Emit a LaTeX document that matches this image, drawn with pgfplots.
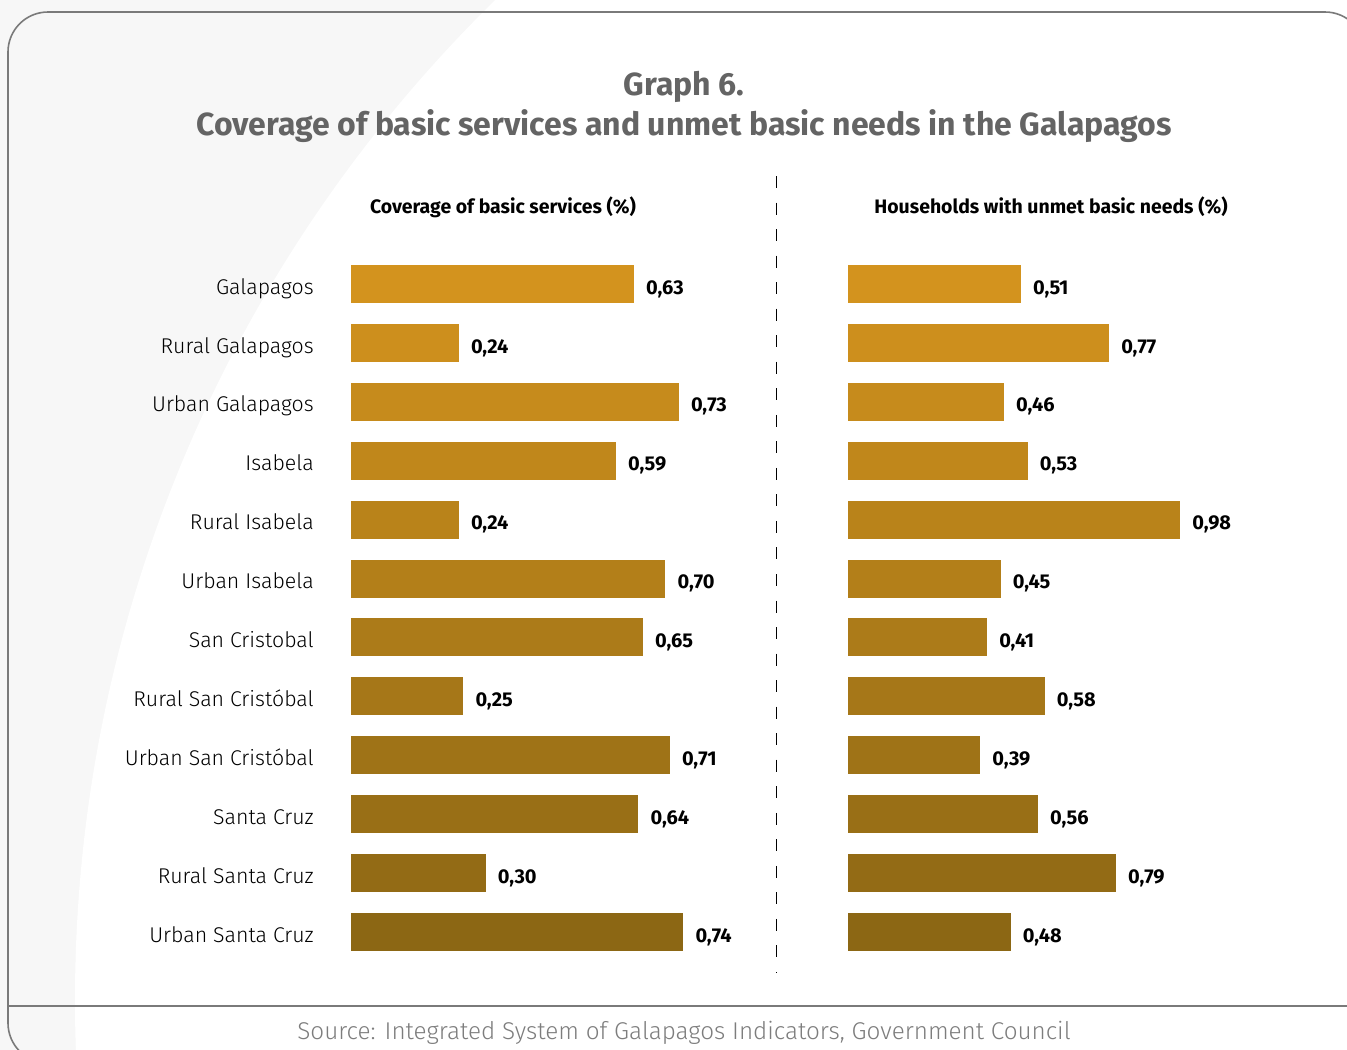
\documentclass[border=0pt]{standalone}
\usepackage{pgfplots}
\pgfplotsset{compat=1.18}
\usepackage{fontspec}
\setmainfont{Fira Sans}
\newfontfamily\lightfont{Fira Sans Light}
\definecolor{c0}{RGB}{211,147,30}
\definecolor{c1}{RGB}{205,143,29}
\definecolor{c2}{RGB}{198,139,28}
\definecolor{c3}{RGB}{192,135,27}
\definecolor{c4}{RGB}{185,131,26}
\definecolor{c5}{RGB}{179,127,25}
\definecolor{c6}{RGB}{172,123,25}
\definecolor{c7}{RGB}{166,119,24}
\definecolor{c8}{RGB}{159,115,23}
\definecolor{c9}{RGB}{153,111,22}
\definecolor{c10}{RGB}{147,107,21}
\definecolor{c11}{RGB}{140,103,20}
\definecolor{bgc}{RGB}{247,247,247}
\definecolor{cardc}{RGB}{122,122,122}
\definecolor{titlec}{RGB}{100,100,100}
\definecolor{srcc}{RGB}{125,125,125}
\newcommand\onebar[3]{\addplot[xbar, bar width=28.5pt, bar shift=0pt, fill=#1, draw=none] coordinates {(#2,#3)};}
\pgfplotsset{
  panel/.style={
    scale only axis, clip=false,
    xmin=0, xmax=1, ymin=-0.5, ymax=11.5,
    y=44.18pt, y dir=reverse,
    anchor=north west,
    axis line style={draw=none}, major tick length=0pt,
    xtick=\empty,
    point meta=x,
    nodes near coords, nodes near coords align=horizontal,
    nodes near coords style={font=\bfseries\fontsize{15}{15}\selectfont, inner sep=0pt, anchor=base west, xshift=9pt, yshift=-7.6pt, text=black},
    /pgf/number format/.cd, fixed, fixed zerofill, precision=2, use comma, assume math mode=true,
  }
}
\begin{document}
\begin{tikzpicture}
\begin{scope}[x=0.75pt,y=-0.75pt]
\path[use as bounding box] (0,0) rectangle (1347,1050);
\begin{scope}
\clip (0,0) rectangle (1347,1050);
\fill[bgc] (0,0) rectangle (1347,1050);
\fill[white] (1475,1000) circle[radius=1400];
\draw[cardc, line width=1.2pt, rounded corners=30pt] (8,12) rectangle (1365,1063);
\draw[cardc, line width=1.5pt] (8,1006) -- (1347,1006);
\end{scope}
\node[font=\bfseries\fontsize{24}{24}\selectfont, text=titlec] at (684,87) {Graph 6.};
\node[font=\bfseries\fontsize{24}{24}\selectfont, text=titlec] at (684,126) {Coverage of basic services and unmet basic needs in the Galapagos};
\node[font=\bfseries\fontsize{14.6}{14.6}\selectfont] at (503,207) {Coverage of basic services (\%)};
\node[font=\bfseries\fontsize{14.6}{14.6}\selectfont] at (1051,207) {Households with unmet basic needs (\%)};
\node[font=\lightfont\fontsize{18.2}{18.2}\selectfont, text=srcc] at (684,1033) {Source: Integrated System of Galapagos Indicators, Government Council};
\draw[black, line width=0.7pt, dash pattern=on 9pt off 10.9pt] (776,176) -- (776,973);
\end{scope}

\begin{axis}[panel, x=336.75pt, at={(263.25pt,-190.9pt)},
  ytick={0,...,11},
  yticklabels={Galapagos, Rural Galapagos, Urban Galapagos, Isabela, Rural Isabela, Urban Isabela, San Cristobal, Rural San Cristóbal, Urban San Cristóbal, Santa Cruz, Rural Santa Cruz, Urban Santa Cruz},
  yticklabel style={font=\lightfont\fontsize{16}{16}\selectfont, inner sep=0pt, anchor=base east, xshift=-27.75pt, yshift=-7.6pt},
]
\onebar{c0}{0.63}{0}
\onebar{c1}{0.24}{1}
\onebar{c2}{0.73}{2}
\onebar{c3}{0.59}{3}
\onebar{c4}{0.24}{4}
\onebar{c5}{0.70}{5}
\onebar{c6}{0.65}{6}
\onebar{c7}{0.25}{7}
\onebar{c8}{0.71}{8}
\onebar{c9}{0.64}{9}
\onebar{c10}{0.30}{10}
\onebar{c11}{0.74}{11}
\end{axis}

\begin{axis}[panel, x=254.25pt, at={(636pt,-190.9pt)}, ytick=\empty]
\onebar{c0}{0.51}{0}
\onebar{c1}{0.77}{1}
\onebar{c2}{0.46}{2}
\onebar{c3}{0.53}{3}
\onebar{c4}{0.98}{4}
\onebar{c5}{0.45}{5}
\onebar{c6}{0.41}{6}
\onebar{c7}{0.58}{7}
\onebar{c8}{0.39}{8}
\onebar{c9}{0.56}{9}
\onebar{c10}{0.79}{10}
\onebar{c11}{0.48}{11}
\end{axis}
\end{tikzpicture}
\end{document}
